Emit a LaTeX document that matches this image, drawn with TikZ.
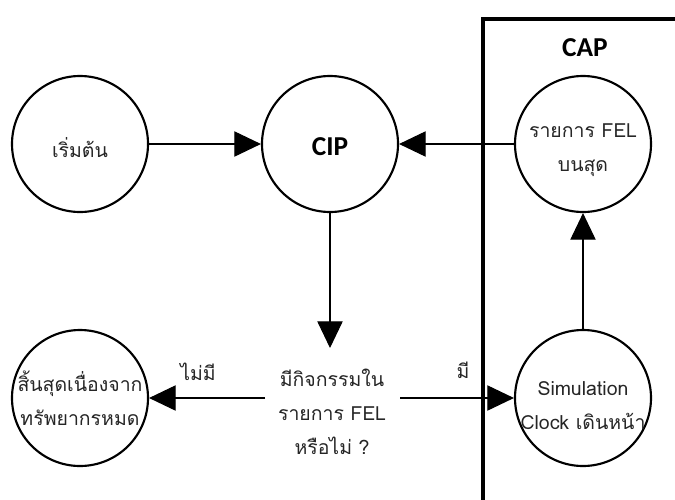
\documentclass[tikz,border=0pt]{standalone}
\usepackage{fontspec}
\newfontfamily\thaifont[Script=Thai]{Loma}
\newfontfamily\capfont{Carlito}
\usetikzlibrary{arrows.meta}
\begin{document}
\begin{tikzpicture}[x=0.75pt,y=-0.75pt,
  state/.style={circle,draw,line width=1.6pt,minimum size=102pt,inner sep=0pt},
  lbl/.style={font=\thaifont\fontsize{14.6}{25.5}\selectfont,align=center,inner sep=0pt,text=black!85},
  head/.style={font=\capfont\bfseries\fontsize{20.5}{24}\selectfont,inner sep=0pt},
  flow/.style={line width=0.8pt,-{Triangle[length=20pt,width=19pt]}}]
\path[use as bounding box] (0,0) rectangle (675,500);
\fill[white] (0,0) rectangle (675,500);
\begin{scope}
  \clip (0,0) rectangle (675,500);
  % CAP boundary
  \draw[line width=3pt] (483,505) -- (483,19) -- (680,19);
\end{scope}

% states
\node[state] (start) at (80,144) {};
\node[state] (cip) at (330,144) {};
\node[state] (fel) at (583,144) {};
\node[state] (sim) at (583,398) {};
\node[state] (stop) at (80,398) {};

% texts
\node[lbl] (startT) at (80,148) {เริ่มต้น};
\node[head] (cipT) at (330,147) {CIP};
\node[head] (capT) at (585,48) {CAP};
\node[lbl] (felT) at (583,150) {รายการ FEL\\บนสุด};
\node[lbl] (simT) at (583,406) {Simulation\\Clock เดินหน้า};
\node[lbl] (stopT) at (80,398) {สิ้นสุดเนื่องจาก\\ทรัพยากรหมด};
\node[lbl] (dec) at (332,412) {มีกิจกรรมใน\\รายการ FEL\\หรือไม่ ?};
\node[lbl] (yes) at (463,370) {มี};
\node[lbl] (no) at (198,372) {ไม่มี};

% decision connection points
\coordinate (decN) at (330,348);
\coordinate (decW) at (265,398);
\coordinate (decE) at (400,398);

% flows
\draw[flow] (start) -- (cip);
\draw[flow] (fel) -- (cip);
\draw[flow] (sim) -- (fel);
\draw[flow] (cip) -- (decN);
\draw[flow] (decW) -- (stop);
\draw[flow] (decE) -- (sim);
\end{tikzpicture}
\end{document}
